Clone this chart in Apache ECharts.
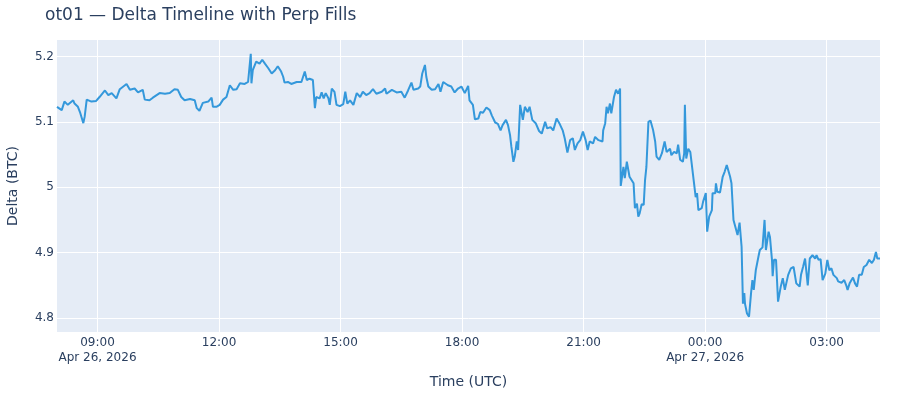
<!DOCTYPE html>
<html>
<head>
<meta charset="utf-8">
<script src="https://cdn.jsdelivr.net/npm/echarts@6/dist/echarts.min.js"></script>
<style>
html,body{margin:0;padding:0;background:#fff;}
#chart{width:900px;height:400px;}
</style>
</head>
<body>
<div id="chart"></div>
<script>
const chartTitle = 'ot01 — Delta Timeline with Perp Fills';
const xAxisTitle = 'Time (UTC)';
const yAxisTitle = 'Delta (BTC)';
const startTime = '2026-04-26T08:00:00Z';
const endMinute = 1219;

const minutesFromStart = [
  0, 7, 11, 16, 24, 26, 31, 34, 39, 41, 44, 51, 58, 63, 71, 76, 81, 88, 93, 103,
  108, 115, 120, 127, 130, 137, 142, 152, 160, 167, 174, 179, 184, 189, 197, 204, 207, 211, 216, 224,
  229, 231, 236, 241, 246, 251, 256, 261, 266, 271, 278, 283, 285, 287, 288, 290, 295, 300, 304, 308,
  313, 318, 323, 327, 332, 335, 337, 342, 347, 355, 362, 367, 370, 374, 379, 382, 384, 389, 392, 395,
  398, 402, 404, 407, 411, 414, 419, 424, 427, 430, 434, 439, 444, 449, 453, 458, 463, 468, 473, 481,
  486, 488, 496, 503, 510, 515, 520, 525, 528, 535, 538, 541, 545, 547, 550, 555, 560, 565, 568, 572,
  579, 584, 589, 594, 599, 604, 609, 611, 613, 616, 619, 624, 627, 631, 636, 641, 644, 649, 653, 657,
  660, 665, 668, 671, 673, 676, 678, 681, 683, 686, 690, 693, 697, 700, 704, 709, 714, 718, 723, 726,
  731, 735, 740, 744, 749, 752, 756, 760, 764, 767, 771, 775, 779, 783, 786, 789, 794, 797, 802, 808,
  809, 812, 814, 816, 819, 821, 825, 828, 831, 834, 835, 839, 841, 844, 848, 851, 854, 856, 859, 861,
  863, 866, 869, 871, 873, 876, 879, 883, 886, 888, 892, 896, 900, 903, 908, 910, 914, 918, 920, 923,
  927, 929, 930, 932, 935, 938, 940, 943, 946, 948, 950, 955, 957, 961, 963, 966, 970, 971, 975, 976,
  978, 982, 986, 989, 992, 994, 997, 999, 1002, 1004, 1008, 1011, 1013, 1014, 1016, 1018, 1019, 1022, 1025, 1028,
  1030, 1032, 1035, 1039, 1041, 1045, 1048, 1050, 1054, 1056, 1059, 1060, 1062, 1065, 1068, 1072, 1075, 1078, 1083, 1087,
  1091, 1095, 1100, 1102, 1105, 1108, 1110, 1112, 1115, 1119, 1123, 1125, 1128, 1131, 1134, 1138, 1141, 1144, 1147, 1150,
  1155, 1157, 1162, 1166, 1169, 1171, 1174, 1179, 1182, 1185, 1188, 1192, 1195, 1199, 1203, 1207, 1210, 1213, 1215, 1219
];

const deltaBtc = [
  5.123, 5.118, 5.131, 5.126, 5.133, 5.128, 5.123, 5.115, 5.098, 5.108, 5.134, 5.131, 5.132, 5.138, 5.148, 5.141, 5.144, 5.136, 5.150, 5.158,
  5.149, 5.151, 5.145, 5.149, 5.134, 5.133, 5.137, 5.144, 5.143, 5.144, 5.150, 5.149, 5.138, 5.133, 5.135, 5.133, 5.121, 5.117, 5.129, 5.131,
  5.137, 5.123, 5.123, 5.126, 5.134, 5.138, 5.156, 5.149, 5.150, 5.159, 5.158, 5.161, 5.160, 5.204, 5.159, 5.179, 5.192, 5.189, 5.195, 5.189,
  5.182, 5.174, 5.179, 5.185, 5.177, 5.169, 5.160, 5.161, 5.158, 5.161, 5.161, 5.177, 5.164, 5.166, 5.164, 5.121, 5.138, 5.136, 5.145, 5.136,
  5.144, 5.136, 5.126, 5.151, 5.146, 5.126, 5.124, 5.127, 5.146, 5.128, 5.133, 5.126, 5.144, 5.138, 5.146, 5.141, 5.144, 5.150, 5.143, 5.146,
  5.151, 5.143, 5.149, 5.145, 5.146, 5.137, 5.148, 5.160, 5.149, 5.151, 5.154, 5.174, 5.187, 5.169, 5.154, 5.149, 5.150, 5.158, 5.146, 5.161,
  5.156, 5.154, 5.145, 5.151, 5.154, 5.144, 5.155, 5.133, 5.131, 5.126, 5.104, 5.105, 5.115, 5.114, 5.122, 5.118, 5.110, 5.099, 5.097, 5.087,
  5.095, 5.103, 5.095, 5.080, 5.062, 5.039, 5.047, 5.070, 5.057, 5.126, 5.103, 5.123, 5.115, 5.123, 5.103, 5.098, 5.086, 5.082, 5.100, 5.090,
  5.092, 5.087, 5.105, 5.098, 5.087, 5.075, 5.053, 5.072, 5.075, 5.057, 5.067, 5.072, 5.085, 5.072, 5.057, 5.070, 5.067, 5.077, 5.072, 5.070,
  5.087, 5.098, 5.123, 5.113, 5.128, 5.113, 5.138, 5.149, 5.143, 5.151, 5.002, 5.031, 5.014, 5.039, 5.016, 5.011, 5.006, 4.968, 4.975, 4.955,
  4.960, 4.974, 4.973, 5.011, 5.031, 5.100, 5.102, 5.087, 5.070, 5.047, 5.042, 5.052, 5.070, 5.054, 5.059, 5.049, 5.054, 5.052, 5.065, 5.042,
  5.039, 5.052, 5.126, 5.044, 5.059, 5.054, 5.037, 5.011, 4.985, 4.991, 4.965, 4.968, 4.978, 4.991, 4.932, 4.955, 4.965, 4.991, 4.991, 5.006,
  4.993, 4.992, 5.016, 5.024, 5.034, 5.032, 5.016, 5.006, 4.950, 4.947, 4.927, 4.946, 4.945, 4.909, 4.822, 4.838, 4.822, 4.807, 4.802, 4.838,
  4.858, 4.843, 4.873, 4.894, 4.904, 4.908, 4.950, 4.904, 4.932, 4.924, 4.889, 4.864, 4.889, 4.889, 4.825, 4.848, 4.861, 4.843, 4.866, 4.876,
  4.878, 4.853, 4.848, 4.866, 4.878, 4.891, 4.889, 4.850, 4.891, 4.896, 4.891, 4.896, 4.889, 4.890, 4.858, 4.868, 4.889, 4.873, 4.876, 4.866,
  4.861, 4.856, 4.854, 4.858, 4.850, 4.843, 4.853, 4.862, 4.853, 4.848, 4.866, 4.866, 4.878, 4.881, 4.889, 4.884, 4.889, 4.901, 4.891, 4.891
];

const yRange = [4.7786, 5.2252];
const yTickValues = [4.8, 4.9, 5.0, 5.1, 5.2];
const xTickTimes = ['2026-04-26T09:00:00Z', '2026-04-26T12:00:00Z', '2026-04-26T15:00:00Z', '2026-04-26T18:00:00Z',
                    '2026-04-26T21:00:00Z', '2026-04-27T00:00:00Z', '2026-04-27T03:00:00Z'];
const xTickLabels = ['09:00\nApr 26, 2026', '12:00', '15:00', '18:00', '21:00', '00:00\nApr 27, 2026', '03:00'];

const t0 = Date.parse(startTime);
const seriesData = minutesFromStart.map((m, i) => [t0 + m * 60000, deltaBtc[i]]);
const xTickValues = xTickTimes.map(s => Date.parse(s));

const FONT = 'DejaVu Sans';
const TXT = '#2a3f5f';

const chart = echarts.init(document.getElementById('chart'), null, {renderer: 'canvas'});
chart.setOption({
  animation: false,
  backgroundColor: '#ffffff',
  textStyle: {fontFamily: FONT},
  title: {
    text: chartTitle,
    left: 45, top: 7, padding: 0,
    textStyle: {fontFamily: FONT, fontSize: 17, fontWeight: 'normal', color: TXT}
  },
  grid: {
    left: 57, right: 20, top: 40, bottom: 68,
    containLabel: false,
    outerBoundsMode: 'none',
    show: true, backgroundColor: '#E5ECF6', borderWidth: 0
  },
  xAxis: {
    type: 'value',
    min: t0,
    max: t0 + endMinute * 60000,
    name: xAxisTitle,
    nameLocation: 'middle',
    nameGap: 43,
    nameTextStyle: {fontFamily: FONT, fontSize: 14, color: TXT, verticalAlign: 'top'},
    axisLine: {show: false},
    axisTick: {show: false, customValues: xTickValues},
    axisLabel: {
      customValues: xTickValues,
      formatter: function (v) {
        const idx = xTickValues.indexOf(v);
        return idx >= 0 ? xTickLabels[idx] : '';
      },
      fontFamily: FONT, fontSize: 12, color: TXT,
      lineHeight: 15.5, margin: 3,
      hideOverlap: false
    },
    splitLine: {show: true, lineStyle: {color: '#ffffff', width: 1}}
  },
  yAxis: {
    type: 'value',
    min: yRange[0],
    max: yRange[1],
    name: yAxisTitle,
    nameLocation: 'middle',
    nameGap: 37,
    nameRotate: 90,
    nameTextStyle: {fontFamily: FONT, fontSize: 14, color: TXT},
    axisLine: {show: false},
    axisTick: {show: false, customValues: yTickValues},
    axisLabel: {
      customValues: yTickValues,
      formatter: function (v) { return String(Math.round(v * 10) / 10); },
      fontFamily: FONT, fontSize: 12, color: TXT, margin: 3
    },
    splitLine: {show: true, lineStyle: {color: '#ffffff', width: 1}}
  },
  series: [{
    type: 'line',
    data: seriesData,
    showSymbol: false,
    lineStyle: {color: '#3498db', width: 2},
    itemStyle: {color: '#3498db'},
    silent: true
  }]
});
</script>
</body>
</html>
